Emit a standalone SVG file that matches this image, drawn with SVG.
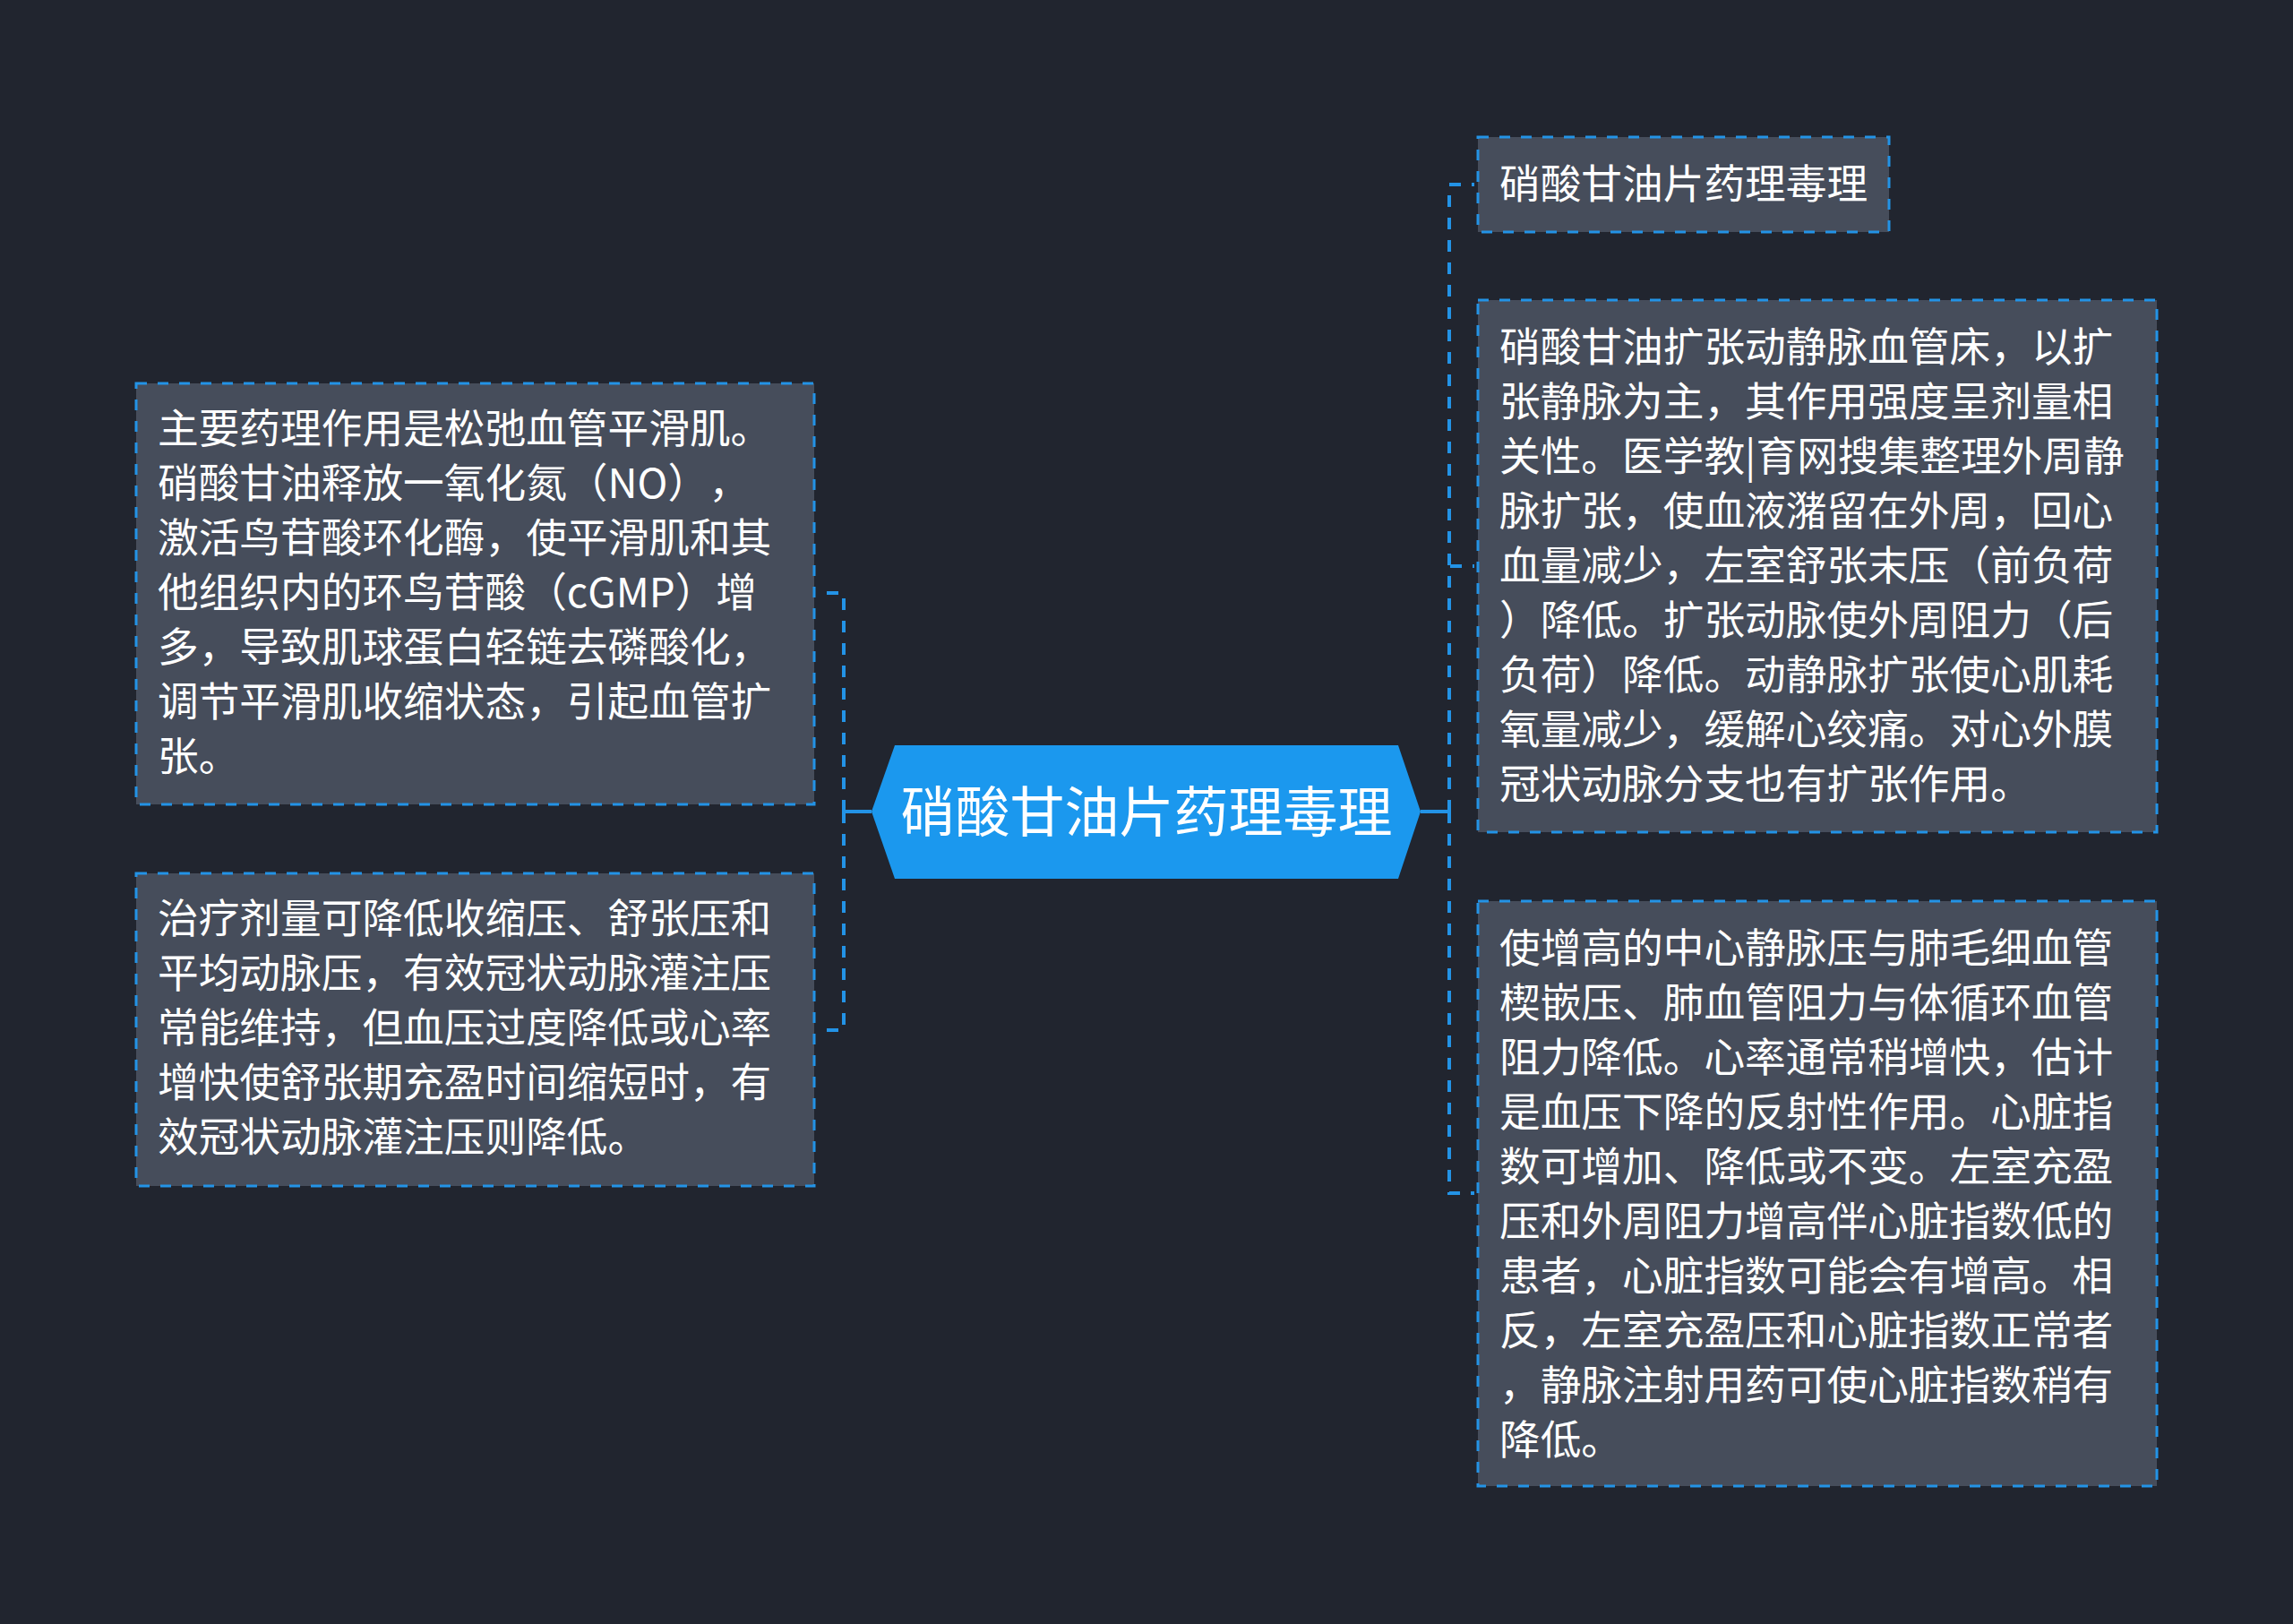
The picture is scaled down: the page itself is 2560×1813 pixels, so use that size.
<svg xmlns="http://www.w3.org/2000/svg" width="2560" height="1813" viewBox="0 0 2560 1813">
<style>
.bg{fill:#21252f}
.box{fill:#464d5b;stroke:#2393e6;stroke-width:3;stroke-dasharray:12 12}
.t{font-family:"Noto Sans CJK SC","Noto Sans",sans-serif;font-size:45.7px;fill:#ffffff;text-spacing-trim:space-all}
.ct{font-family:"Noto Sans CJK SC","Noto Sans",sans-serif;font-size:61px;fill:#ffffff}
.dash{fill:none;stroke:#2393e6;stroke-width:4;stroke-dasharray:13 12}
.solid{fill:none;stroke:#2393e6;stroke-width:4}
</style>
<rect class="bg" x="0" y="0" width="2560" height="1813"/>
<g id="connectors">
<path class="solid" d="M973 906 L942 906"/>
<path class="dash" d="M942 906 L942 662 L914 662"/>
<path class="dash" d="M942 906 L942 1150 L914 1150"/>
<path class="solid" d="M1586 906 L1618 906"/>
<path class="dash" d="M1618 906 L1618 206 L1646 206"/>
<path class="dash" d="M1618 906 L1618 632 L1646 632"/>
<path class="dash" d="M1618 906 L1618 1332 L1646 1332"/>
</g>
<g id="center">
<polygon points="973,906 999,832 1561,832 1586,906 1561,981 999,981" fill="#1b98ee"/>
<text class="ct" x="1280" y="929" text-anchor="middle">硝酸甘油片药理毒理</text>
</g>
<g id="left1">
<rect class="box" x="152" y="428" width="757" height="470"/>
<text class="t" x="176" y="495">主要药理作用是松弛血管平滑肌。</text>
<text class="t" x="176" y="556">硝酸甘油释放一氧化氮（NO），</text>
<text class="t" x="176" y="617">激活鸟苷酸环化酶，使平滑肌和其</text>
<text class="t" x="176" y="678">他组织内的环鸟苷酸（cGMP）增</text>
<text class="t" x="176" y="739">多，导致肌球蛋白轻链去磷酸化，</text>
<text class="t" x="176" y="800">调节平滑肌收缩状态，引起血管扩</text>
<text class="t" x="176" y="861">张。</text>
</g>
<g id="left2">
<rect class="box" x="152" y="975" width="757" height="349"/>
<text class="t" x="176" y="1042">治疗剂量可降低收缩压、舒张压和</text>
<text class="t" x="176" y="1103">平均动脉压，有效冠状动脉灌注压</text>
<text class="t" x="176" y="1164">常能维持，但血压过度降低或心率</text>
<text class="t" x="176" y="1225">增快使舒张期充盈时间缩短时，有</text>
<text class="t" x="176" y="1286">效冠状动脉灌注压则降低。</text>
</g>
<g id="right1">
<rect class="box" x="1650" y="153" width="459" height="106"/>
<text class="t" x="1674" y="222">硝酸甘油片药理毒理</text>
</g>
<g id="right2">
<rect class="box" x="1650" y="335" width="758" height="594"/>
<text class="t" x="1674" y="404">硝酸甘油扩张动静脉血管床，以扩</text>
<text class="t" x="1674" y="465">张静脉为主，其作用强度呈剂量相</text>
<text class="t" x="1674" y="526">关性。医学教|育网搜集整理外周静</text>
<text class="t" x="1674" y="587">脉扩张，使血液潴留在外周，回心</text>
<text class="t" x="1674" y="648">血量减少，左室舒张末压（前负荷</text>
<text class="t" x="1674" y="709">）降低。扩张动脉使外周阻力（后</text>
<text class="t" x="1674" y="770">负荷）降低。动静脉扩张使心肌耗</text>
<text class="t" x="1674" y="831">氧量减少，缓解心绞痛。对心外膜</text>
<text class="t" x="1674" y="892">冠状动脉分支也有扩张作用。</text>
</g>
<g id="right3">
<rect class="box" x="1650" y="1006" width="758" height="653"/>
<text class="t" x="1674" y="1075">使增高的中心静脉压与肺毛细血管</text>
<text class="t" x="1674" y="1136">楔嵌压、肺血管阻力与体循环血管</text>
<text class="t" x="1674" y="1197">阻力降低。心率通常稍增快，估计</text>
<text class="t" x="1674" y="1258">是血压下降的反射性作用。心脏指</text>
<text class="t" x="1674" y="1319">数可增加、降低或不变。左室充盈</text>
<text class="t" x="1674" y="1380">压和外周阻力增高伴心脏指数低的</text>
<text class="t" x="1674" y="1441">患者，心脏指数可能会有增高。相</text>
<text class="t" x="1674" y="1502">反，左室充盈压和心脏指数正常者</text>
<text class="t" x="1674" y="1563">，静脉注射用药可使心脏指数稍有</text>
<text class="t" x="1674" y="1624">降低。</text>
</g>
</svg>
